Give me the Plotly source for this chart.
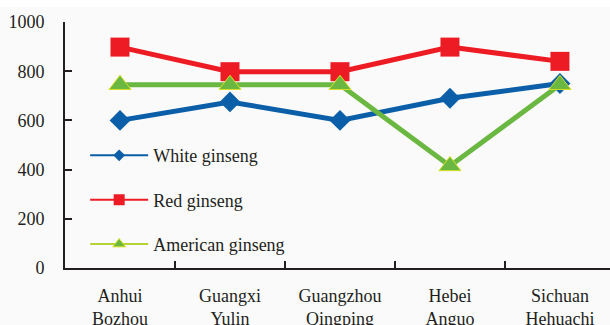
import plotly.graph_objects as go

categories = ["Anhui<br>Bozhou", "Guangxi<br>Yulin", "Guangzhou<br>Qingping", "Hebei<br>Anguo", "Sichuan<br>Hehuachi"]
white_ginseng = [600, 675, 600, 690, 750]
red_ginseng = [898, 798, 798, 898, 840]
american_ginseng = [745, 745, 745, 415, 745]
y_ticks = [0, 200, 400, 600, 800, 1000]

BLUE = "#0a5fa8"
RED = "#ed1c24"
GREEN = "#6ab842"
EDGE = "#d8df20"
FONT = "Liberation Serif"

fig = go.Figure()

fig.add_trace(go.Scatter(x=categories, y=white_ginseng, mode="lines+markers",
                         line=dict(color=BLUE, width=5),
                         marker=dict(symbol="diamond", size=16, color=BLUE),
                         showlegend=False))
fig.add_trace(go.Scatter(x=categories, y=red_ginseng, mode="lines+markers",
                         line=dict(color=RED, width=5),
                         marker=dict(symbol="square", size=19, color=RED),
                         showlegend=False))
fig.add_trace(go.Scatter(x=categories, y=american_ginseng, mode="lines+markers",
                         line=dict(color=GREEN, width=5),
                         marker=dict(symbol="triangle-up", size=19, color=GREEN,
                                     line=dict(color=EDGE, width=1)),
                         showlegend=False))

# legend entries
fig.add_trace(go.Scatter(x=[None], y=[None], mode="lines+markers", name="White ginseng",
                         legendgroup="a",
                         line=dict(color=BLUE, width=2),
                         marker=dict(symbol="diamond", size=9, color=BLUE)))
fig.add_trace(go.Scatter(x=[None], y=[None], mode="lines+markers", name="Red ginseng",
                         legendgroup="b",
                         line=dict(color=RED, width=2),
                         marker=dict(symbol="square", size=11, color=RED)))
fig.add_trace(go.Scatter(x=[None], y=[None], mode="lines+markers", name="American ginseng",
                         legendgroup="c",
                         line=dict(color="#b5d334", width=2),
                         marker=dict(symbol="triangle-up", size=11, color=GREEN,
                                     line=dict(color=EDGE, width=1))))

fig.update_layout(
    width=610, height=325,
    margin=dict(l=65, r=0, t=22, b=57, autoexpand=False),
    paper_bgcolor="#fafafa",
    plot_bgcolor="#fafafa",
    font=dict(family=FONT, size=18, color="#231f20"),
    legend=dict(x=0.037, y=0.276, xanchor="left", yanchor="middle",
                bgcolor="rgba(0,0,0,0)", itemwidth=58, tracegroupgap=18,
                font=dict(family=FONT, size=18)),
    shapes=[dict(type="rect", xref="paper", yref="paper", x0=-0.2, x1=1.05,
                 y0=1.061, y1=1.2, fillcolor="white", line=dict(width=0), layer="below")],
)
fig.update_xaxes(
    type="category", range=[-0.5, 4.455], automargin=False,
    showline=True, linecolor="#231f20", linewidth=2,
    ticks="inside", tickson="boundaries", ticklen=7, tickwidth=2, tickcolor="#231f20",
    showgrid=False, zeroline=False, ticklabelstandoff=10,
)
fig.update_yaxes(
    range=[0, 1000], tickvals=y_ticks, ticktext=[str(v) for v in y_ticks], automargin=False,
    showline=True, linecolor="#231f20", linewidth=2,
    ticks="inside", ticklen=7, tickwidth=2, tickcolor="#231f20",
    showgrid=False, zeroline=False, ticklabelstandoff=15,
)

fig.write_html("out.html")
